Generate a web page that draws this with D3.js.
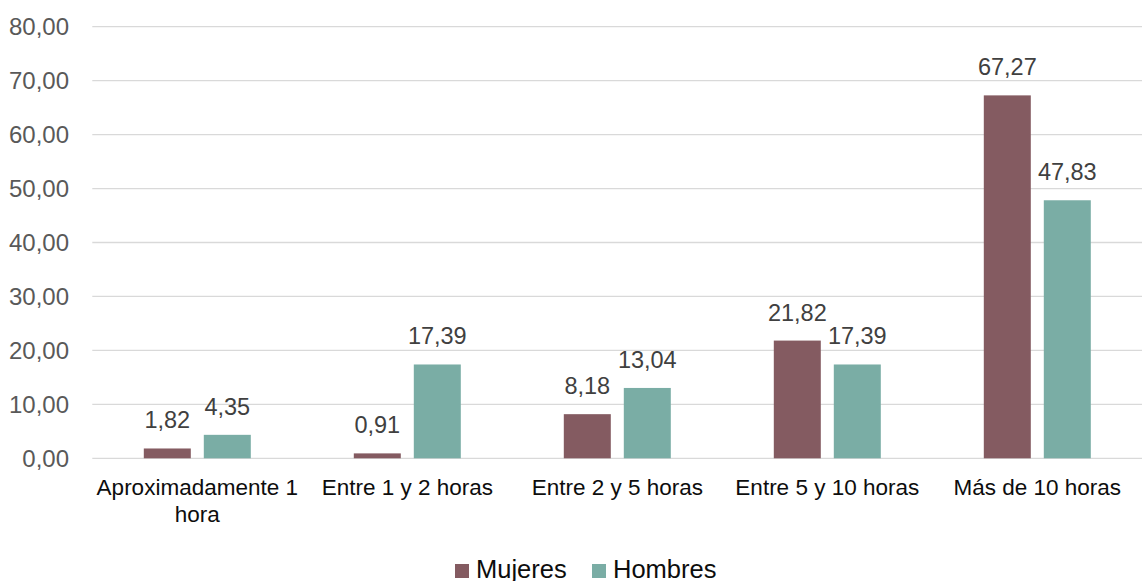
<!DOCTYPE html>
<html>
<head>
<meta charset="utf-8">
<script src="https://cdn.jsdelivr.net/npm/d3@7"></script>
<style>
  html, body { margin: 0; padding: 0; background: #fff; }
  svg { display: block; font-family: "Liberation Sans", Arial, sans-serif; }
</style>
</head>
<body>
<svg id="chart" width="1142" height="581"></svg>
<script>
const categories = ["Aproximadamente 1 hora", "Entre 1 y 2 horas", "Entre 2 y 5 horas", "Entre 5 y 10 horas", "Más de 10 horas"];
const categoryLines = [["Aproximadamente 1", "hora"], ["Entre 1 y 2 horas"], ["Entre 2 y 5 horas"], ["Entre 5 y 10 horas"], ["Más de 10 horas"]];
const seriesNames = ["Mujeres", "Hombres"];
const mujeres = [1.82, 0.91, 8.18, 21.82, 67.27];
const hombres = [4.35, 17.39, 13.04, 17.39, 47.83];
const yTicks = [0, 10, 20, 30, 40, 50, 60, 70, 80];
const colors = ["#845B61", "#7AADA5"];

const svg = d3.select("#chart");
const plotLeft = 92.3, plotRight = 1142.3, plotTop = 26.7, plotBottom = 458.3;

const x0 = d3.scaleBand().domain(categories).range([plotLeft, plotRight]).paddingInner(0.4905).paddingOuter(0.24525);
const x1 = d3.scaleBand().domain(seriesNames).range([0, x0.bandwidth()]).paddingInner(13 / 60);
const y = d3.scaleLinear().domain([0, 80]).range([plotBottom, plotTop]);
const color = d3.scaleOrdinal().domain(seriesNames).range(colors);
const fmt = v => d3.format(".2f")(v).replace(".", ",");

// gridlines
svg.append("g").selectAll("line").data(yTicks).join("line")
  .attr("x1", plotLeft).attr("x2", plotRight)
  .attr("y1", d => y(d)).attr("y2", d => y(d))
  .attr("stroke", "#d9d9d9").attr("stroke-width", 1.3);

// y tick labels
svg.append("g").selectAll("text").data(yTicks).join("text")
  .attr("x", 69).attr("y", d => y(d)).attr("dy", "0.35em")
  .attr("text-anchor", "end").attr("fill", "#595959")
  .style("font-size", "24px")
  .text(d => fmt(d));

// bars
const data = categories.map((c, i) => ({ cat: c, values: [
  { s: seriesNames[0], v: mujeres[i] },
  { s: seriesNames[1], v: hombres[i] }
]}));

const groups = svg.append("g").selectAll("g").data(data).join("g")
  .attr("transform", d => `translate(${x0(d.cat)},0)`);

groups.selectAll("rect").data(d => d.values).join("rect")
  .attr("x", d => x1(d.s)).attr("width", x1.bandwidth())
  .attr("y", d => y(d.v)).attr("height", d => y(0) - y(d.v))
  .attr("fill", d => color(d.s));

groups.selectAll("text.lbl").data(d => d.values).join("text")
  .attr("class", "lbl")
  .attr("x", d => x1(d.s) + x1.bandwidth() / 2)
  .attr("y", d => y(d.v) - 20)
  .attr("text-anchor", "middle").attr("fill", "#404040")
  .style("font-size", "23.5px")
  .text(d => fmt(d.v));

// x labels
const xl = svg.append("g").selectAll("text").data(categories).join("text")
  .attr("x", d => x0(d) + x0.bandwidth() / 2)
  .attr("y", 495)
  .attr("text-anchor", "middle").attr("fill", "#0d0d0d")
  .style("font-size", "22.5px");
xl.each(function(d, i) {
  d3.select(this).selectAll("tspan").data(categoryLines[i]).join("tspan")
    .attr("x", x0(d) + x0.bandwidth() / 2)
    .attr("dy", (t, j) => j === 0 ? 0 : 26.7)
    .text(t => t);
});

// legend
const legendX = [455, 592];
const lg = svg.append("g").selectAll("g").data(seriesNames).join("g")
  .attr("transform", (d, i) => `translate(${legendX[i]},564)`);
lg.append("rect").attr("width", 14).attr("height", 14).attr("fill", d => color(d));
lg.append("text").attr("x", 21).attr("y", 13.5)
  .attr("fill", "#0d0d0d").style("font-size", "25.5px").text(d => d);
</script>
</body>
</html>
